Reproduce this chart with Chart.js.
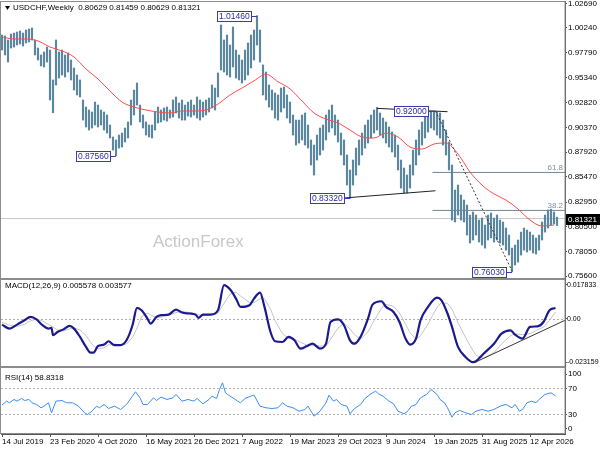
<!DOCTYPE html>
<html>
<head>
<meta charset="utf-8">
<title>USDCHF Weekly</title>
<script src="https://cdn.jsdelivr.net/npm/chart.js@4.4.1/dist/chart.umd.min.js"></script>
<style>
  html, body { margin: 0; padding: 0; background: #fff; }
  #wrap { width: 600px; height: 450px; }
</style>
</head>
<body>
<div id="wrap"><canvas id="chart" width="600" height="450"></canvas></div>
<script>
// one bar every 2 weeks, first bar = week of 14 Jul 2019
const barHigh = [
  0.9954, 0.9945, 0.9905, 0.9964, 0.9974, 0.9984, 0.9994, 0.9974, 1.0004, 1.0014,
  1.0024, 0.9905, 0.9825, 0.9756, 0.9786, 0.9835, 0.9805, 0.9508, 0.9905, 0.9786,
  0.9805, 0.9756, 0.9776, 0.9706, 0.9627, 0.9557, 0.9508, 0.9309, 0.9239, 0.9210,
  0.9190, 0.9289, 0.9259, 0.9210, 0.9190, 0.9160, 0.9061, 0.8942, 0.8912, 0.8961,
  0.8981, 0.9031, 0.9091, 0.9309, 0.9408, 0.9478, 0.9259, 0.9160, 0.9091, 0.9061,
  0.9061, 0.9190, 0.9239, 0.9210, 0.9230, 0.9239, 0.9210, 0.9309, 0.9339, 0.9279,
  0.9309, 0.9259, 0.9289, 0.9309, 0.9259, 0.9339, 0.9309, 0.9289, 0.9309, 0.9329,
  0.9458, 0.9428, 0.9577, 1.0054, 0.9905, 0.9954, 0.9855, 1.0034, 0.9805, 0.9756,
  0.9706, 0.9805, 0.9875, 0.9954, 1.0004, 1.0146, 1.0004, 0.9657, 0.9587, 0.9458,
  0.9408, 0.9379, 0.9359, 0.9428, 0.9438, 0.9359, 0.9289, 0.9160, 0.9110, 0.9110,
  0.9160, 0.9180, 0.9061, 0.8912, 0.8862, 0.8961, 0.9031, 0.9061, 0.9160, 0.9210,
  0.9259, 0.9160, 0.9110, 0.8981, 0.8912, 0.8763, 0.8614, 0.8713, 0.8832, 0.8912,
  0.8981, 0.9061, 0.9110, 0.9160, 0.9210, 0.9235, 0.9180, 0.9130, 0.9091, 0.9041,
  0.8991, 0.8961, 0.8862, 0.8713, 0.8634, 0.8564, 0.8664, 0.8812, 0.8912, 0.9011,
  0.9091, 0.9160, 0.9190, 0.9195, 0.9200, 0.9190, 0.9180, 0.9110, 0.9011, 0.8892,
  0.8664, 0.8415, 0.8465, 0.8366, 0.8316, 0.8266, 0.8167, 0.8197, 0.8167, 0.8117,
  0.8137, 0.8068, 0.8167, 0.8187, 0.8137, 0.8167, 0.8117, 0.8098, 0.8038, 0.7968,
  0.7839, 0.7869, 0.7919, 0.7998, 0.8038, 0.8018, 0.7998, 0.7968, 0.7939, 0.7968,
  0.8098, 0.8167, 0.8217, 0.8225, 0.8197, 0.8146
];
const barLow = [
  0.9805, 0.9756, 0.9686, 0.9825, 0.9835, 0.9855, 0.9865, 0.9845, 0.9875, 0.9885,
  0.9905, 0.9756, 0.9706, 0.9647, 0.9637, 0.9686, 0.9309, 0.9183, 0.9458, 0.9527,
  0.9557, 0.9537, 0.9587, 0.9508, 0.9408, 0.9359, 0.9339, 0.9110, 0.9041, 0.9011,
  0.9031, 0.9061, 0.9041, 0.9061, 0.9011, 0.8981, 0.8932, 0.8812, 0.8756, 0.8832,
  0.8842, 0.8892, 0.8932, 0.9061, 0.9160, 0.9259, 0.9091, 0.9031, 0.8961, 0.8942,
  0.8932, 0.9011, 0.9081, 0.9091, 0.9110, 0.9100, 0.9130, 0.9140, 0.9180, 0.9130,
  0.9110, 0.9110, 0.9150, 0.9140, 0.9160, 0.9130, 0.9110, 0.9140, 0.9160, 0.9190,
  0.9230, 0.9210, 0.9339, 0.9607, 0.9587, 0.9557, 0.9537, 0.9637, 0.9527, 0.9508,
  0.9478, 0.9508, 0.9557, 0.9627, 0.9706, 0.9855, 0.9686, 0.9359, 0.9309, 0.9239,
  0.9210, 0.9130, 0.9110, 0.9190, 0.9230, 0.9130, 0.9081, 0.8961, 0.8862, 0.8882,
  0.8912, 0.8862, 0.8832, 0.8664, 0.8564, 0.8713, 0.8763, 0.8812, 0.8912, 0.8991,
  0.9031, 0.8961, 0.8892, 0.8763, 0.8664, 0.8465, 0.8332, 0.8465, 0.8564, 0.8664,
  0.8763, 0.8832, 0.8882, 0.8932, 0.8981, 0.9011, 0.8961, 0.8932, 0.8882, 0.8842,
  0.8793, 0.8743, 0.8614, 0.8435, 0.8386, 0.8386, 0.8435, 0.8564, 0.8664, 0.8763,
  0.8862, 0.8932, 0.8991, 0.9031, 0.9011, 0.8961, 0.8932, 0.8862, 0.8763, 0.8614,
  0.8117, 0.8098, 0.8167, 0.8117, 0.8098, 0.7968, 0.7889, 0.7919, 0.7968, 0.7899,
  0.7869, 0.7839, 0.7919, 0.7939, 0.7899, 0.7919, 0.7889, 0.7869, 0.7819, 0.7770,
  0.7603, 0.7671, 0.7700, 0.7770, 0.7819, 0.7800, 0.7819, 0.7790, 0.7780, 0.7819,
  0.7919, 0.7998, 0.8038, 0.8068, 0.8078, 0.8063
];

// red moving average
const maWeeks = [0, 8, 16, 24, 32, 40, 48, 56, 64, 72, 80, 88, 96, 104, 112, 120, 128, 136, 144, 152,
  160, 168, 176, 184, 192, 200, 208, 216, 224, 232, 240, 248, 256, 264, 272, 280, 288, 296, 304, 312,
  320, 328, 336, 344, 352, 360, 368];
const maValues = [0.9935, 0.9915, 0.9915, 0.9895, 0.9835, 0.9796, 0.9736, 0.9617, 0.9518, 0.9398,
  0.9289, 0.9239, 0.9210, 0.9190, 0.9180, 0.9200, 0.9200, 0.9210, 0.9269, 0.9359,
  0.9428, 0.9500, 0.9565, 0.9490, 0.9420, 0.9299, 0.9180, 0.9120, 0.9081, 0.9011,
  0.8942, 0.8932, 0.8981, 0.8942, 0.8842, 0.8822, 0.8872, 0.8882, 0.8773, 0.8594,
  0.8465, 0.8376, 0.8316, 0.8227, 0.8117, 0.8058, 0.8068];

// MACD(12,26,9)
const macdWeeks = [0, 5, 10, 15, 19, 23, 27, 31, 33, 34, 37, 41, 45, 48, 52, 56, 59, 61, 64, 68,
  71, 75, 79, 83, 87, 90, 93, 97, 99, 103, 106, 111, 116, 120, 125, 129, 131, 134, 139, 144,
  148, 152, 156, 159, 165, 168, 172, 175, 179, 182, 187, 191, 195, 199, 203, 207, 212, 216, 219, 224,
  228, 232, 235, 239, 244, 247, 253, 256, 261, 265, 269, 272, 276, 279, 284, 290, 293, 297, 300, 304,
  309, 314, 316, 321, 328, 333, 339, 342, 347, 352, 357, 361, 365, 369];
const macdValues = [-0.0032, -0.0053, -0.0032, -0.0009, 0.0009, -0.0004, -0.0035, -0.0053, -0.0049, -0.0088,
  -0.0071, -0.0057, -0.0039, -0.0053, -0.0097, -0.0150, -0.0180, -0.0180, -0.0145, -0.0138,
  -0.0120, -0.0141, -0.0141, -0.0115, -0.0035, 0.0057, 0.0044, 0.0000, -0.0027, 0.0009,
  0.0018, 0.0021, 0.0048, 0.0032, 0.0027, 0.0021, 0.0004, 0.0021, 0.0021, 0.0044,
  0.0177, 0.0155, 0.0106, 0.0062, 0.0071, 0.0106, 0.0138, 0.0062, -0.0071, -0.0120,
  -0.0124, -0.0097, -0.0115, -0.0159, -0.0147, -0.0133, -0.0159, -0.0133, -0.0018, -0.0004,
  -0.0035, -0.0115, -0.0133, -0.0097, 0.0000, 0.0074, 0.0092, 0.0062, 0.0035, -0.0018,
  -0.0106, -0.0138, -0.0106, -0.0009, 0.0062, 0.0111, 0.0097, 0.0027, -0.0044, -0.0150,
  -0.0203, -0.0231, -0.0226, -0.0186, -0.0133, -0.0080, -0.0062, -0.0085, -0.0106, -0.0044,
  -0.0041, -0.0018, 0.0044, 0.0056];
const signalValues = [-0.0020, -0.0035, -0.0042, -0.0030, -0.0012, -0.0002, -0.0012, -0.0032, -0.0040, -0.0045,
  -0.0060, -0.0065, -0.0055, -0.0050, -0.0060, -0.0090, -0.0125, -0.0145, -0.0160, -0.0155,
  -0.0140, -0.0135, -0.0138, -0.0135, -0.0100, -0.0050, 0.0010, 0.0030, 0.0020, 0.0005,
  0.0008, 0.0018, 0.0032, 0.0038, 0.0032, 0.0026, 0.0020, 0.0018, 0.0020, 0.0030,
  0.0080, 0.0130, 0.0140, 0.0120, 0.0085, 0.0085, 0.0105, 0.0105, 0.0050, -0.0010,
  -0.0080, -0.0105, -0.0110, -0.0125, -0.0140, -0.0142, -0.0145, -0.0145, -0.0110, -0.0050,
  -0.0025, -0.0055, -0.0085, -0.0110, -0.0070, -0.0025, 0.0055, 0.0075, 0.0065, 0.0030,
  -0.0030, -0.0075, -0.0110, -0.0090, -0.0030, 0.0060, 0.0085, 0.0080, 0.0050, -0.0020,
  -0.0100, -0.0170, -0.0195, -0.0210, -0.0180, -0.0135, -0.0090, -0.0080, -0.0085, -0.0080,
  -0.0060, -0.0045, -0.0010, 0.0036];

// RSI(14)
const rsiWeeks = [0, 3, 5, 8, 10, 13, 15, 18, 20, 23, 26, 28, 31, 33, 36, 40, 43, 47, 51, 55,
  57, 60, 63, 65, 68, 71, 75, 79, 83, 87, 89, 92, 94, 97, 101, 103, 106, 110, 114, 116,
  120, 124, 128, 130, 134, 138, 140, 143, 145, 147, 149, 152, 154, 157, 159, 162, 166, 168, 172, 176,
  180, 184, 187, 190, 194, 198, 202, 204, 208, 212, 216, 218, 221, 223, 226, 230, 232, 235, 239, 242,
  246, 249, 251, 254, 258, 261, 264, 268, 270, 273, 276, 279, 283, 286, 290, 292, 295, 297, 300, 302,
  305, 309, 313, 316, 320, 324, 328, 332, 336, 340, 342, 345, 347, 350, 353, 356, 358, 362, 366, 369];
const rsiValues = [44.4, 50.5, 48.0, 53.1, 50.5, 54.6, 51.5, 53.1, 48.0, 45.4, 40.3, 42.8, 48.0, 32.6, 50.5, 51.5, 48.0, 48.0, 42.8, 32.6,
  30.0, 35.1, 42.8, 40.3, 45.4, 39.2, 42.8, 37.7, 45.4, 58.2, 64.9, 55.6, 45.4, 45.4, 55.6, 51.5, 56.7, 53.1, 55.6, 60.8,
  50.5, 53.1, 50.5, 54.6, 46.4, 53.1, 58.2, 54.6, 68.5, 78.7, 63.3, 58.2, 55.6, 50.5, 48.0, 54.6, 58.2, 59.7, 42.8, 40.3,
  39.2, 40.3, 48.0, 42.8, 40.3, 35.1, 37.7, 42.8, 27.4, 35.1, 48.0, 59.7, 50.5, 53.1, 45.4, 42.8, 31.0, 39.2, 45.4, 54.6,
  61.8, 65.9, 61.8, 58.2, 50.5, 46.4, 35.1, 31.0, 34.1, 42.8, 45.4, 55.6, 60.8, 68.5, 60.8, 53.1, 48.0, 40.3, 25.9, 32.6,
  36.2, 32.6, 30.0, 35.1, 37.7, 35.1, 37.7, 42.8, 45.4, 40.3, 45.4, 35.1, 37.7, 48.0, 50.5, 48.0, 53.1, 60.8, 63.3, 58.8];

// axis labels
const dateTickWeeks = [0, 32, 64, 96, 128, 160, 192, 224, 256, 288, 320, 352];
const dateTickLabels = ['14 Jul 2019', '23 Feb 2020', '4 Oct 2020', '16 May 2021', '26 Dec 2021', '7 Aug 2022',
  '19 Mar 2023', '29 Oct 2023', '9 Jun 2024', '19 Jan 2025', '31 Aug 2025', '12 Apr 2026'];
const priceTicks = [1.0269, 1.0024, 0.9779, 0.9534, 0.9282, 0.9037, 0.8792, 0.8547, 0.8295, 0.8050, 0.7805, 0.7560];
const macdTicks = [0.017833, 0, -0.023159];
const macdTickLabels = ['0.017833', '0.00', '-0.023159'];
const rsiTickVals = [92, 70, 30, 8];
const rsiTickLabels = ['100', '70', '30', '0'];

const lastPrice = 0.81321;
const swingLabels = [
  { week: 170, price: 1.0146, text: '1.01460' },
  { week: 288, price: 0.9200, text: '0.92000' },
  { week: 76, price: 0.8756, text: '0.87560' },
  { week: 232, price: 0.8332, text: '0.83320' },
  { week: 340, price: 0.7603, text: '0.76030' }
];
const supportLine = [[227, 0.8335], [289, 0.8408]];
const topLine = [[250, 0.9226], [297, 0.9193]];
const dropLine = [[289, 0.9200], [340, 0.7612]];
const fibLevels = [{ name: '61.8', price: 0.8590 }, { name: '38.2', price: 0.8213 }];
const fibStart = 287;
const macdTrend = [[315, -0.0233], [375.3, -0.0009]];

const X_MIN = -0.67, X_MAX = 375.33;
const FONT = '"Liberation Sans", Arial, sans-serif';
Chart.defaults.font.family = FONT;
Chart.defaults.font.size = 8;
Chart.defaults.color = '#000';

const pts = (arr) => arr.map(p => ({ x: p[0], y: p[1] }));
const series = (ws, vs) => ws.map((w, i) => ({ x: w, y: vs[i] }));

function lineSet(data, axis, color, width, order, dash) {
  return {
    type: 'line', data: data, yAxisID: axis, borderColor: color, borderWidth: width,
    pointRadius: 0, fill: false, order: order, borderDash: dash || [], tension: 0
  };
}

const datasets = [
  lineSet(pts([[X_MIN, lastPrice], [X_MAX, lastPrice]]), 'y', '#c8c8c8', 1, 20),
  {
    type: 'bar',
    data: barHigh.map((h, i) => ({ x: i * 2, y: [barLow[i], h] })),
    yAxisID: 'y',
    backgroundColor: '#5b87a1',
    barThickness: 1.5,
    order: 12
  },
  Object.assign(lineSet(series(maWeeks, maValues), 'y', '#ff4d4d', 1, 6), { cubicInterpolationMode: 'monotone' }),
  lineSet(pts(supportLine), 'y', '#222', 1, 2),
  lineSet(pts(topLine), 'y', '#222', 1, 2),
  lineSet(pts(dropLine), 'y', '#333', 1, 2, [2, 2]),
  lineSet(series(macdWeeks, signalValues), 'y2', '#c4c4c4', 1, 8),
  Object.assign(lineSet(series(macdWeeks, macdValues), 'y2', '#1b1b8f', 2.2, 4), { cubicInterpolationMode: 'monotone' }),
  lineSet(pts(macdTrend), 'y2', '#333', 1, 3),
  lineSet(series(rsiWeeks, rsiValues), 'y3', '#3a8ef5', 1, 4)
];
fibLevels.forEach(f => {
  datasets.push(lineSet(pts([[fibStart, f.price], [X_MAX, f.price]]), 'y', '#6f8793', 1, 15));
});

function yAxis(opts) {
  return Object.assign({
    type: 'linear',
    position: 'right',
    stack: 'panes',
    grid: { drawOnChartArea: false, tickLength: 2, color: '#555' },
    border: { color: '#555' },
    afterFit: s => { s.width = 35; s.paddingTop = 0; s.paddingBottom = 0; }
  }, opts);
}

const panesPlugin = {
  id: 'panes',
  beforeDatasetsDraw(chart) {
    const { ctx, chartArea, scales } = chart;
    ctx.save();
    ctx.font = '17px ' + FONT;
    ctx.fillStyle = '#c8c8c8';
    ctx.textBaseline = 'alphabetic';
    ctx.fillText('ActionForex', chartArea.left + 152, scales.y.top + 246);

    ctx.strokeStyle = '#b0b0b0';
    ctx.lineWidth = 1;
    ctx.setLineDash([2, 2]);
    [[scales.y2, 0], [scales.y3, 70], [scales.y3, 30]].forEach(([s, v]) => {
      const y = Math.round(s.getPixelForValue(v)) + 0.5;
      ctx.beginPath();
      ctx.moveTo(chartArea.left, y);
      ctx.lineTo(chartArea.right, y);
      ctx.stroke();
    });
    ctx.restore();
  },
  afterDraw(chart) {
    const { ctx, chartArea, scales } = chart;
    const x = scales.x, y = scales.y;
    ctx.save();

    // pane frames
    ctx.strokeStyle = '#8c8c8c';
    ctx.lineWidth = 1;
    [scales.y, scales.y2, scales.y3].forEach(s => {
      ctx.strokeRect(0.5, s.top + 0.5, chartArea.right - 0.5, s.bottom - s.top - 1);
    });

    // fibo texts
    ctx.font = '8px ' + FONT;
    ctx.fillStyle = '#7d8f9b';
    ctx.textAlign = 'right';
    ctx.textBaseline = 'bottom';
    fibLevels.forEach(f => {
      ctx.fillText(f.name, chartArea.right - 2, y.getPixelForValue(f.price) - 1);
    });

    // swing labels
    ctx.font = '8.5px ' + FONT;
    ctx.textAlign = 'left';
    ctx.textBaseline = 'middle';
    swingLabels.forEach(l => {
      const ax = x.getPixelForValue(l.week);
      const ay = Math.round(y.getPixelForValue(l.price));
      const w = Math.round(ctx.measureText(l.text).width) + 3;
      const right = Math.round(ax - 6);
      const left = right - w;
      const top = ay - 5;
      ctx.fillStyle = '#fff';
      ctx.fillRect(left, top, w, 10);
      ctx.strokeStyle = '#3c3cb0';
      ctx.strokeRect(left + 0.5, top + 0.5, w, 10);
      ctx.beginPath();
      ctx.moveTo(right, ay + 0.5);
      ctx.lineTo(ax, ay + 0.5);
      ctx.stroke();
      ctx.fillStyle = '#2c2c9c';
      ctx.fillText(l.text, left + 2, top + 5.5);
    });

    // pane titles
    ctx.fillStyle = '#000';
    ctx.font = '8px ' + FONT;
    ctx.fillText('USDCHF,Weekly  0.80629 0.81459 0.80629 0.81321', 13, scales.y.top + 7);
    ctx.fillText('MACD(12,26,9) 0.005578 0.003577', 5, scales.y2.top + 7);
    ctx.fillText('RSI(14) 58.8318', 5, scales.y3.top + 11);
    ctx.beginPath();
    ctx.moveTo(5, scales.y.top + 5);
    ctx.lineTo(10, scales.y.top + 5);
    ctx.lineTo(7.5, scales.y.top + 9);
    ctx.closePath();
    ctx.fill();

    // last price box
    const py = y.getPixelForValue(lastPrice);
    ctx.fillStyle = '#000';
    ctx.fillRect(chartArea.right + 1, Math.round(py) - 5, 35, 11);
    ctx.fillStyle = '#fff';
    ctx.fillText('0.81321', chartArea.right + 3, Math.round(py) + 0.5);
    ctx.restore();
  }
};

new Chart(document.getElementById('chart'), {
  type: 'bar',
  data: { datasets: datasets },
  options: {
    responsive: false,
    animation: false,
    layout: { padding: { left: 1, top: 1, right: 0, bottom: 0 } },
    plugins: { legend: { display: false }, tooltip: { enabled: false } },
    scales: {
      x: {
        type: 'linear',
        min: X_MIN,
        max: X_MAX,
        offset: false,
        grid: { drawOnChartArea: false, tickLength: 3, color: '#555', offset: false },
        border: { color: '#555' },
        afterBuildTicks: s => { s.ticks = dateTickWeeks.map(v => ({ value: v })); },
        ticks: {
          autoSkip: false, maxRotation: 0, align: 'start', padding: 0,
          callback: (v, i) => dateTickLabels[i]
        },
        afterFit: s => { s.height = 16; s.paddingLeft = 0; s.paddingRight = 0; }
      },
      y: yAxis({
        stackWeight: 278, min: 0.7532, max: 1.0292,
        afterBuildTicks: s => { s.ticks = priceTicks.map(v => ({ value: v })); },
        ticks: { autoSkip: false, padding: 1, callback: v => v.toFixed(5) }
      }),
      y2: yAxis({
        stackWeight: 88, min: -0.02565, max: 0.02099,
        afterBuildTicks: s => { s.ticks = macdTicks.map(v => ({ value: v })); },
        ticks: { autoSkip: false, padding: 0, font: { size: 7 }, callback: (v, i) => macdTickLabels[i] }
      }),
      y3: yAxis({
        stackWeight: 67, min: 0, max: 103,
        afterBuildTicks: s => { s.ticks = rsiTickVals.map(v => ({ value: v })); },
        ticks: { autoSkip: false, padding: 1, callback: (v, i) => rsiTickLabels[i] }
      })
    }
  },
  plugins: [panesPlugin]
});
</script>
</body>
</html>
